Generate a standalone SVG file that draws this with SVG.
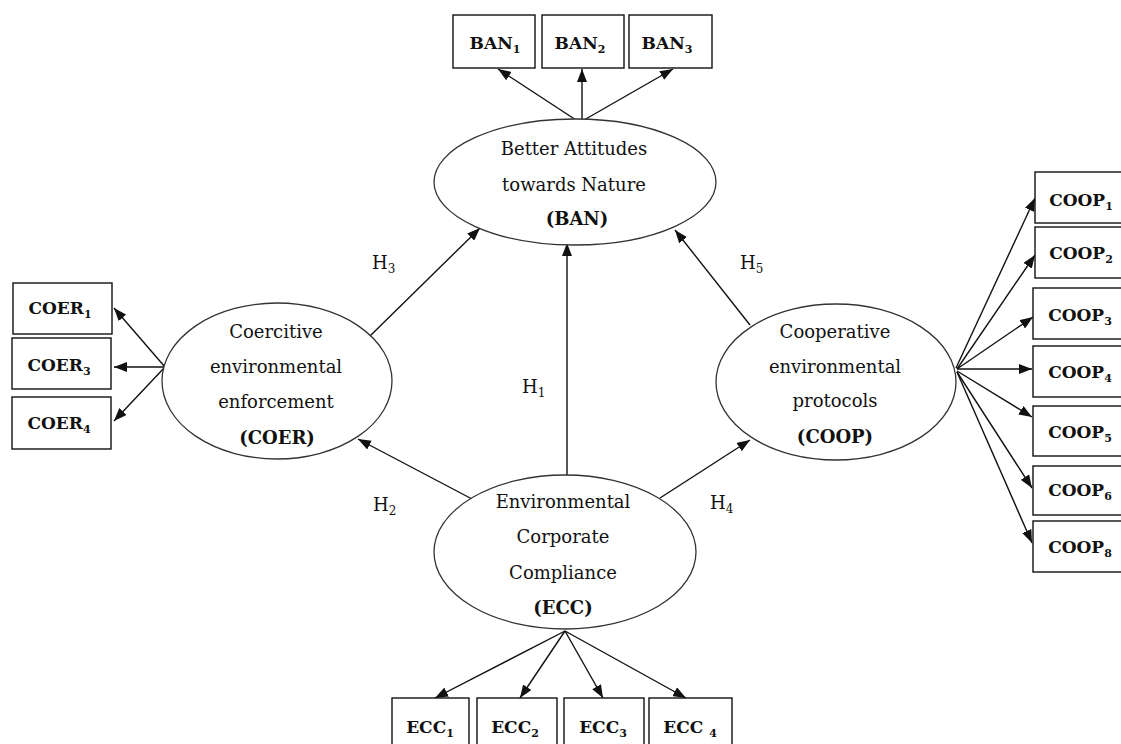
<svg xmlns="http://www.w3.org/2000/svg" width="1121" height="744" viewBox="0 0 1121 744">
<style>
text{font-family:"DejaVu Serif","Liberation Serif",serif;fill:#111}
.lat{font-size:18px}
.box{fill:#fff;stroke:#111;stroke-width:1.4}
.bl{font-size:17px;font-weight:bold}
.ell{fill:#fff;stroke:#333;stroke-width:1.3}
.hl{font-size:18px}
.con line{stroke:#111;stroke-width:1.4;marker-end:url(#ah)}
</style>
<defs>
<marker id="ah" viewBox="0 0 13 10" refX="13" refY="5" markerWidth="13" markerHeight="10" markerUnits="userSpaceOnUse" orient="auto">
<path d="M0,0 L13,5 L0,10 z" fill="#111"/>
</marker>
</defs>
<rect width="1121" height="744" fill="#fff"/>

<g id="connectors" class="con">
<line x1="576" y1="120" x2="498" y2="69"/>
<line x1="582" y1="119" x2="582" y2="69"/>
<line x1="584" y1="120" x2="673" y2="69"/>
<line x1="165" y1="367" x2="114" y2="308"/>
<line x1="165" y1="367" x2="114" y2="367"/>
<line x1="165" y1="367" x2="114" y2="421"/>
<line x1="956" y1="368" x2="1035" y2="198"/>
<line x1="957" y1="369" x2="1035" y2="255"/>
<line x1="957" y1="369" x2="1033" y2="317"/>
<line x1="957" y1="369" x2="1032" y2="369"/>
<line x1="957" y1="371" x2="1032" y2="417"/>
<line x1="957" y1="372" x2="1032" y2="488"/>
<line x1="957" y1="372" x2="1032" y2="543"/>
<line x1="565" y1="631" x2="435" y2="698"/>
<line x1="565" y1="631" x2="520" y2="698"/>
<line x1="565" y1="631" x2="603" y2="698"/>
<line x1="565" y1="631" x2="686" y2="698"/>
<line x1="567" y1="475" x2="567" y2="243"/>
<line x1="472" y1="499" x2="358" y2="439"/>
<line x1="370" y1="336" x2="480" y2="228"/>
<line x1="660" y1="498" x2="750" y2="440"/>
<line x1="750" y1="325" x2="675" y2="230"/>
</g>

<g id="BAN">
<ellipse class="ell" cx="575" cy="182" rx="141" ry="63"/>
<text class="lat" x="574" y="155" text-anchor="middle">Better Attitudes</text>
<text class="lat" x="574" y="191" text-anchor="middle">towards Nature</text>
<text class="lat" x="577" y="225" text-anchor="middle" font-weight="bold">(BAN)</text>
</g>
<g id="COER">
<ellipse class="ell" cx="277" cy="381" rx="115" ry="78"/>
<text class="lat" x="276" y="338" text-anchor="middle">Coercitive</text>
<text class="lat" x="276" y="373" text-anchor="middle">environmental</text>
<text class="lat" x="276" y="408" text-anchor="middle">enforcement</text>
<text class="lat" x="277" y="444" text-anchor="middle" font-weight="bold">(COER)</text>
</g>
<g id="COOP">
<ellipse class="ell" cx="836" cy="382" rx="120" ry="78"/>
<text class="lat" x="835" y="338" text-anchor="middle">Cooperative</text>
<text class="lat" x="835" y="373" text-anchor="middle">environmental</text>
<text class="lat" x="835" y="407" text-anchor="middle">protocols</text>
<text class="lat" x="835" y="443" text-anchor="middle" font-weight="bold">(COOP)</text>
</g>
<g id="ECC">
<ellipse class="ell" cx="565" cy="552" rx="131" ry="77"/>
<text class="lat" x="563" y="508" text-anchor="middle">Environmental</text>
<text class="lat" x="563" y="543" text-anchor="middle">Corporate</text>
<text class="lat" x="563" y="579" text-anchor="middle">Compliance</text>
<text class="lat" x="563" y="614" text-anchor="middle" font-weight="bold">(ECC)</text>
</g>

<g id="BAN1"><rect class="box" x="453" y="15" width="82" height="53"/><text class="bl" x="495" y="49" text-anchor="middle">BAN<tspan font-size="11" dy="4">1</tspan></text></g>
<g id="BAN2"><rect class="box" x="542" y="15" width="82" height="53"/><text class="bl" x="580" y="49" text-anchor="middle">BAN<tspan font-size="11" dy="4">2</tspan></text></g>
<g id="BAN3"><rect class="box" x="629" y="15" width="83" height="53"/><text class="bl" x="667" y="49" text-anchor="middle">BAN<tspan font-size="11" dy="4">3</tspan></text></g>

<g id="COER1"><rect class="box" x="13" y="283" width="99" height="51"/><text class="bl" x="60" y="314" text-anchor="middle">COER<tspan font-size="11" dy="4">1</tspan></text></g>
<g id="COER3"><rect class="box" x="12" y="338" width="99" height="51"/><text class="bl" x="59" y="371" text-anchor="middle">COER<tspan font-size="11" dy="4">3</tspan></text></g>
<g id="COER4"><rect class="box" x="12" y="397" width="99" height="52"/><text class="bl" x="59" y="429" text-anchor="middle">COER<tspan font-size="11" dy="4">4</tspan></text></g>

<g id="COOP1"><rect class="box" x="1035" y="172" width="95" height="51"/><text class="bl" x="1081" y="206" text-anchor="middle">COOP<tspan font-size="11" dy="4">1</tspan></text></g>
<g id="COOP2"><rect class="box" x="1035" y="227" width="95" height="51"/><text class="bl" x="1081" y="259" text-anchor="middle">COOP<tspan font-size="11" dy="4">2</tspan></text></g>
<g id="COOP3"><rect class="box" x="1033" y="288" width="97" height="51"/><text class="bl" x="1080" y="321" text-anchor="middle">COOP<tspan font-size="11" dy="4">3</tspan></text></g>
<g id="COOP4"><rect class="box" x="1033" y="346" width="97" height="51"/><text class="bl" x="1080" y="378" text-anchor="middle">COOP<tspan font-size="11" dy="4">4</tspan></text></g>
<g id="COOP5"><rect class="box" x="1033" y="406" width="97" height="50"/><text class="bl" x="1080" y="438" text-anchor="middle">COOP<tspan font-size="11" dy="4">5</tspan></text></g>
<g id="COOP6"><rect class="box" x="1033" y="466" width="97" height="49"/><text class="bl" x="1080" y="496" text-anchor="middle">COOP<tspan font-size="11" dy="4">6</tspan></text></g>
<g id="COOP8"><rect class="box" x="1033" y="521" width="97" height="51"/><text class="bl" x="1080" y="553" text-anchor="middle">COOP<tspan font-size="11" dy="4">8</tspan></text></g>

<g id="ECC1"><rect class="box" x="392" y="698" width="77" height="60"/><text class="bl" x="430" y="733" text-anchor="middle">ECC<tspan font-size="11" dy="4">1</tspan></text></g>
<g id="ECC2"><rect class="box" x="477" y="698" width="80" height="60"/><text class="bl" x="515" y="733" text-anchor="middle">ECC<tspan font-size="11" dy="4">2</tspan></text></g>
<g id="ECC3"><rect class="box" x="564" y="698" width="80" height="60"/><text class="bl" x="603" y="733" text-anchor="middle">ECC<tspan font-size="11" dy="4">3</tspan></text></g>
<g id="ECC4"><rect class="box" x="649" y="698" width="83" height="60"/><text class="bl" x="690" y="733" text-anchor="middle">ECC <tspan font-size="11" dy="4">4</tspan></text></g>

<g id="labels">
<text class="hl" x="372" y="269">H<tspan font-size="12" dy="4">3</tspan></text>
<text class="hl" x="740" y="269">H<tspan font-size="12" dy="4">5</tspan></text>
<text class="hl" x="522" y="393">H<tspan font-size="12" dy="4">1</tspan></text>
<text class="hl" x="373" y="511">H<tspan font-size="12" dy="4">2</tspan></text>
<text class="hl" x="710" y="509">H<tspan font-size="12" dy="4">4</tspan></text>
</g>
</svg>
